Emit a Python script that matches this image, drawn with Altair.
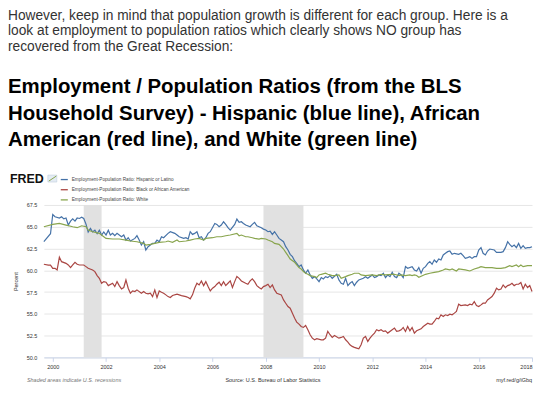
import altair as alt
import pandas as pd

# ---------------- text ----------------
PARAGRAPH = [
    "However, keep in mind that population growth is different for each group. Here is a",
    "look at employment to population ratios which clearly shows NO group has",
    "recovered from the Great Recession:",
]
HEADLINE = [
    "Employment / Population Ratios (from the BLS",
    "Household Survey) - Hispanic (blue line), African",
    "American (red line), and White (green line)",
]
SERIES_NAMES = [
    "Employment-Population Ratio: Hispanic or Latino",
    "Employment-Population Ratio: Black or African American",
    "Employment-Population Ratio: White",
]
SERIES_COLORS = ["#4572a7", "#aa4643", "#89a54e"]
Y_TICKS = [50.0, 52.5, 55.0, 57.5, 60.0, 62.5, 65.0, 67.5]
X_TICK_YEARS = [2000, 2002, 2004, 2006, 2008, 2010, 2012, 2014, 2016, 2018]

# recessions (start, end)
RECESSION_START = ["2001-03-01", "2007-12-01"]
RECESSION_END = ["2001-11-01", "2009-06-01"]

# ---------------- series (month, percent) ----------------
HISPANIC = [
    ("1999-09", 63.3), ("1999-12", 64.2), ("2000-01", 66.4), ("2000-02", 66.15), ("2000-04", 66.0),
    ("2000-05", 66.15), ("2000-06", 65.9), ("2000-07", 66.0), ("2000-08", 65.2), ("2000-09", 65.65),
    ("2000-10", 65.9), ("2000-11", 65.65), ("2000-12", 66.0), ("2001-01", 65.95), ("2001-02", 66.1),
    ("2001-03", 65.95), ("2001-04", 65.3), ("2001-05", 64.4), ("2001-06", 64.8), ("2001-07", 64.4),
    ("2001-08", 64.6), ("2001-09", 64.2), ("2001-10", 64.6), ("2001-11", 64.05), ("2001-12", 64.4),
    ("2002-01", 64.05), ("2002-02", 64.6), ("2002-03", 64.05), ("2002-04", 64.25), ("2002-05", 63.97),
    ("2002-06", 64.25), ("2002-08", 63.85), ("2002-09", 64.05), ("2002-10", 63.47), ("2002-11", 63.74),
    ("2002-12", 63.36), ("2003-02", 63.66), ("2003-03", 63.97), ("2003-04", 63.47), ("2003-05", 62.9),
    ("2003-06", 63.28), ("2003-07", 62.33), ("2003-08", 62.71), ("2003-09", 62.9), ("2003-10", 63.09),
    ("2003-11", 63.09), ("2003-12", 63.47), ("2004-01", 63.28), ("2004-02", 63.85), ("2004-03", 63.74),
    ("2004-05", 64.24), ("2004-06", 64.43), ("2004-08", 64.24), ("2004-09", 64.05), ("2004-10", 63.85),
    ("2004-12", 63.66), ("2005-01", 63.74), ("2005-02", 63.59), ("2005-03", 64.43), ("2005-04", 64.12),
    ("2005-05", 64.24), ("2005-06", 64.43), ("2005-07", 63.74), ("2005-08", 63.85), ("2005-09", 63.47),
    ("2005-10", 63.74), ("2005-11", 64.24), ("2005-12", 64.43), ("2006-02", 65.38), ("2006-03", 65.27),
    ("2006-04", 65.0), ("2006-05", 65.19), ("2006-06", 65.57), ("2006-07", 65.27), ("2006-08", 64.89),
    ("2006-09", 64.62), ("2006-11", 65.27), ("2006-12", 65.88), ("2007-01", 65.5), ("2007-02", 65.57),
    ("2007-03", 65.38), ("2007-04", 65.19), ("2007-06", 65.0), ("2007-07", 65.27), ("2007-08", 65.5),
    ("2007-09", 65.11), ("2007-11", 64.89), ("2007-12", 64.73), ("2008-01", 64.62), ("2008-02", 64.43),
    ("2008-03", 64.5), ("2008-04", 64.12), ("2008-05", 64.43), ("2008-06", 64.05), ("2008-07", 63.66),
    ("2008-08", 63.47), ("2008-09", 63.28), ("2008-10", 62.71), ("2008-11", 62.33), ("2008-12", 61.83),
    ("2009-01", 61.56), ("2009-02", 61.07), ("2009-03", 60.8), ("2009-04", 60.42), ("2009-05", 60.61),
    ("2009-06", 60.04), ("2009-07", 59.66), ("2009-08", 60.04), ("2009-09", 59.47), ("2009-10", 59.08),
    ("2009-11", 59.27), ("2009-12", 59.01), ("2010-01", 58.7), ("2010-02", 59.16), ("2010-03", 59.01),
    ("2010-04", 59.27), ("2010-05", 59.16), ("2010-06", 59.39), ("2010-07", 59.08), ("2010-09", 59.54),
    ("2010-10", 58.89), ("2010-11", 58.51), ("2010-12", 58.4), ("2011-01", 59.08), ("2011-02", 58.24),
    ("2011-03", 58.51), ("2011-04", 58.7), ("2011-05", 58.24), ("2011-06", 58.63), ("2011-07", 58.89),
    ("2011-09", 59.08), ("2011-10", 59.27), ("2011-11", 59.08), ("2012-01", 59.47), ("2012-02", 59.16),
    ("2012-03", 59.27), ("2012-04", 59.47), ("2012-05", 59.39), ("2012-06", 59.66), ("2012-07", 59.16),
    ("2012-08", 59.47), ("2012-09", 59.27), ("2012-10", 59.77), ("2012-11", 59.27), ("2012-12", 59.16),
    ("2013-01", 59.66), ("2013-02", 59.47), ("2013-03", 59.16), ("2013-04", 60.42), ("2013-05", 60.23),
    ("2013-07", 60.42), ("2013-08", 60.04), ("2013-09", 59.92), ("2013-10", 60.31), ("2013-11", 59.66),
    ("2013-12", 60.23), ("2014-01", 60.42), ("2014-02", 60.8), ("2014-03", 60.99), ("2014-04", 60.69),
    ("2014-05", 61.18), ("2014-06", 60.92), ("2014-07", 61.3), ("2014-08", 61.18), ("2014-09", 61.76),
    ("2014-10", 61.95), ("2014-11", 62.14), ("2014-12", 62.21), ("2015-01", 61.83), ("2015-02", 61.95),
    ("2015-04", 61.83), ("2015-05", 61.95), ("2015-06", 61.68), ("2015-07", 61.37), ("2015-08", 61.45),
    ("2015-09", 61.56), ("2015-10", 61.37), ("2015-11", 61.56), ("2015-12", 61.56), ("2016-01", 62.33),
    ("2016-02", 62.6), ("2016-03", 61.95), ("2016-04", 61.76), ("2016-05", 62.21), ("2016-06", 62.44),
    ("2016-08", 62.33), ("2016-09", 62.06), ("2016-10", 62.06), ("2016-11", 62.06), ("2016-12", 62.14),
    ("2017-01", 62.6), ("2017-02", 63.28), ("2017-03", 62.98), ("2017-04", 62.71), ("2017-05", 62.9),
    ("2017-06", 62.6), ("2017-07", 63.09), ("2017-08", 62.52), ("2017-09", 62.83), ("2017-10", 62.52),
    ("2017-11", 62.6), ("2017-12", 62.6), ("2018-01", 62.71),
]

BLACK = [
    ("1999-09", 60.69), ("1999-11", 60.6), ("1999-12", 60.6), ("2000-01", 60.23), ("2000-02", 60.23),
    ("2000-03", 60.04), ("2000-04", 61.5), ("2000-05", 60.99), ("2000-07", 60.8), ("2000-08", 60.61),
    ("2000-09", 60.31), ("2000-10", 60.61), ("2000-11", 60.92), ("2000-12", 60.69), ("2001-01", 60.61),
    ("2001-03", 60.61), ("2001-04", 60.42), ("2001-05", 60.23), ("2001-07", 60.04), ("2001-08", 59.85),
    ("2001-09", 59.39), ("2001-10", 59.08), ("2001-11", 58.51), ("2001-12", 58.7), ("2002-01", 58.63),
    ("2002-02", 58.24), ("2002-04", 58.51), ("2002-05", 58.13), ("2002-06", 58.7), ("2002-07", 58.24),
    ("2002-08", 57.86), ("2002-09", 58.02), ("2002-10", 58.89), ("2002-11", 57.94), ("2002-12", 57.37),
    ("2003-01", 57.63), ("2003-02", 57.56), ("2003-03", 57.75), ("2003-05", 57.37), ("2003-06", 57.56),
    ("2003-07", 57.37), ("2003-08", 57.29), ("2003-09", 57.37), ("2003-10", 56.98), ("2003-11", 57.75),
    ("2003-12", 56.87), ("2004-01", 57.63), ("2004-02", 57.48), ("2004-03", 57.37), ("2004-04", 57.18),
    ("2004-05", 56.98), ("2004-06", 56.87), ("2004-07", 57.1), ("2004-09", 57.25), ("2004-10", 57.18),
    ("2004-11", 57.1), ("2005-01", 56.98), ("2005-02", 56.87), ("2005-03", 56.72), ("2005-04", 57.18),
    ("2005-05", 57.94), ("2005-06", 58.51), ("2005-07", 58.32), ("2005-08", 58.78), ("2005-09", 58.24),
    ("2005-10", 58.7), ("2005-11", 58.13), ("2005-12", 57.63), ("2006-01", 57.94), ("2006-02", 58.13),
    ("2006-03", 58.4), ("2006-04", 58.63), ("2006-05", 58.24), ("2006-06", 58.7), ("2006-07", 58.24),
    ("2006-08", 58.51), ("2006-09", 58.78), ("2006-10", 58.02), ("2006-11", 58.7), ("2006-12", 59.3),
    ("2007-01", 59.08), ("2007-02", 58.78), ("2007-04", 58.51), ("2007-05", 58.4), ("2007-06", 58.78),
    ("2007-07", 59.01), ("2007-08", 58.7), ("2007-09", 58.24), ("2007-10", 58.02), ("2007-11", 57.86),
    ("2007-12", 58.13), ("2008-01", 58.24), ("2008-02", 58.4), ("2008-03", 58.02), ("2008-04", 58.32),
    ("2008-05", 57.75), ("2008-06", 57.37), ("2008-08", 57.18), ("2008-09", 56.6), ("2008-10", 56.22),
    ("2008-11", 55.84), ("2008-12", 55.65), ("2009-01", 55.08), ("2009-02", 54.5), ("2009-03", 54.05),
    ("2009-04", 53.82), ("2009-05", 53.55), ("2009-06", 53.44), ("2009-07", 53.66), ("2009-08", 53.17),
    ("2009-09", 52.6), ("2009-10", 52.21), ("2009-11", 52.02), ("2009-12", 52.14), ("2010-02", 52.02),
    ("2010-03", 52.02), ("2010-04", 52.21), ("2010-05", 52.98), ("2010-06", 52.6), ("2010-07", 52.29),
    ("2010-08", 52.52), ("2010-10", 52.21), ("2010-11", 52.29), ("2010-12", 52.4), ("2011-01", 52.02),
    ("2011-02", 51.76), ("2011-03", 51.45), ("2011-04", 51.26), ("2011-05", 51.15), ("2011-06", 51.07),
    ("2011-07", 50.99), ("2011-08", 51.45), ("2011-09", 52.21), ("2011-10", 52.4), ("2011-11", 51.83),
    ("2011-12", 52.21), ("2012-01", 52.52), ("2012-02", 52.79), ("2012-03", 53.17), ("2012-04", 53.05),
    ("2012-05", 53.17), ("2012-06", 52.98), ("2012-07", 53.05), ("2012-08", 52.79), ("2012-10", 53.17),
    ("2012-11", 53.36), ("2012-12", 52.98), ("2013-01", 53.05), ("2013-02", 53.17), ("2013-03", 53.44),
    ("2013-04", 52.98), ("2013-05", 53.55), ("2013-06", 53.05), ("2013-07", 53.44), ("2013-08", 52.79),
    ("2013-09", 53.05), ("2013-11", 53.28), ("2013-12", 53.55), ("2014-02", 53.93), ("2014-03", 53.82),
    ("2014-04", 53.82), ("2014-05", 54.12), ("2014-06", 54.5), ("2014-07", 54.43), ("2014-08", 54.89),
    ("2014-09", 54.69), ("2014-10", 54.89), ("2014-11", 54.81), ("2014-12", 54.96), ("2015-01", 54.89),
    ("2015-02", 55.08), ("2015-03", 55.27), ("2015-04", 56.11), ("2015-05", 55.95), ("2015-07", 56.03),
    ("2015-08", 55.95), ("2015-09", 56.11), ("2015-10", 56.03), ("2015-11", 56.41), ("2015-12", 55.95),
    ("2016-01", 55.84), ("2016-02", 56.03), ("2016-03", 56.22), ("2016-04", 56.22), ("2016-05", 56.6),
    ("2016-06", 56.79), ("2016-07", 56.98), ("2016-08", 57.37), ("2016-09", 57.94), ("2016-10", 57.75),
    ("2016-11", 57.86), ("2016-12", 58.32), ("2017-01", 58.02), ("2017-02", 58.24), ("2017-03", 58.32),
    ("2017-04", 58.51), ("2017-05", 58.24), ("2017-06", 58.4), ("2017-07", 58.4), ("2017-08", 58.6),
    ("2017-09", 57.86), ("2017-10", 58.4), ("2017-11", 58.02), ("2017-12", 58.24), ("2018-01", 57.56),
]

WHITE = [
    ("1999-09", 65.0), ("2000-01", 65.27), ("2000-04", 65.38), ("2000-07", 65.19), ("2000-10", 65.0),
    ("2000-12", 64.89), ("2001-02", 65.11), ("2001-04", 65.0), ("2001-05", 64.62), ("2001-07", 64.43),
    ("2001-10", 64.24), ("2001-12", 63.85), ("2002-01", 63.66), ("2002-04", 63.59), ("2002-07", 63.59),
    ("2002-10", 63.47), ("2002-12", 63.36), ("2003-03", 63.28), ("2003-06", 63.09), ("2003-07", 62.9),
    ("2003-09", 62.98), ("2003-11", 63.09), ("2004-01", 63.21), ("2004-04", 63.28), ("2004-05", 63.36),
    ("2004-07", 63.21), ("2004-09", 63.47), ("2004-10", 63.28), ("2005-01", 63.36), ("2005-03", 63.47),
    ("2005-05", 63.59), ("2005-07", 63.66), ("2005-09", 63.47), ("2005-10", 63.66), ("2006-01", 63.74),
    ("2006-03", 63.85), ("2006-05", 63.85), ("2006-07", 63.97), ("2006-09", 64.05), ("2006-12", 64.24),
    ("2007-01", 63.97), ("2007-02", 64.05), ("2007-04", 63.85), ("2007-05", 63.85), ("2007-07", 63.74),
    ("2007-08", 63.66), ("2007-10", 63.59), ("2007-11", 63.66), ("2008-01", 63.59), ("2008-02", 63.47),
    ("2008-04", 63.28), ("2008-05", 63.09), ("2008-07", 62.98), ("2008-08", 62.71), ("2008-09", 62.44),
    ("2008-10", 62.06), ("2008-11", 61.68), ("2008-12", 61.3), ("2009-02", 60.92), ("2009-03", 60.61),
    ("2009-04", 60.31), ("2009-05", 60.15), ("2009-06", 59.85), ("2009-07", 59.66), ("2009-08", 59.54),
    ("2009-09", 59.39), ("2009-11", 59.27), ("2009-12", 59.16), ("2010-01", 59.47), ("2010-02", 59.54),
    ("2010-04", 59.66), ("2010-05", 59.54), ("2010-06", 59.47), ("2010-07", 59.39), ("2010-08", 59.39),
    ("2010-10", 59.47), ("2010-11", 59.08), ("2011-01", 59.27), ("2011-02", 59.39), ("2011-04", 59.54),
    ("2011-05", 59.66), ("2011-07", 59.66), ("2011-08", 59.47), ("2011-10", 59.39), ("2012-01", 59.47),
    ("2012-03", 59.39), ("2012-05", 59.54), ("2012-07", 59.47), ("2012-10", 59.54), ("2012-11", 59.54),
    ("2013-01", 59.39), ("2013-02", 59.47), ("2013-04", 59.39), ("2013-06", 59.47), ("2013-07", 59.4),
    ("2013-08", 59.47), ("2013-09", 59.4), ("2013-10", 59.2), ("2014-01", 59.54), ("2014-03", 59.66),
    ("2014-05", 59.77), ("2014-07", 59.85), ("2014-09", 60.04), ("2014-10", 60.15), ("2014-12", 60.04),
    ("2015-01", 60.15), ("2015-03", 59.92), ("2015-04", 60.15), ("2015-07", 60.04), ("2015-09", 59.92),
    ("2015-11", 60.15), ("2016-01", 60.31), ("2016-02", 60.42), ("2016-04", 60.31), ("2016-07", 60.31),
    ("2016-09", 60.23), ("2016-11", 60.23), ("2017-01", 60.31), ("2017-03", 60.53), ("2017-04", 60.42),
    ("2017-06", 60.61), ("2017-07", 60.42), ("2017-08", 60.61), ("2017-09", 60.42), ("2017-11", 60.53),
    ("2017-12", 60.53), ("2018-01", 60.53),
]

# ---------------- tables ----------------
rows = []
for name, series in zip(SERIES_NAMES, [HISPANIC, BLACK, WHITE]):
    for month, value in series:
        rows.append({"date": month + "-01", "value": value, "series": name})
lines_df = pd.DataFrame(rows)
rec_df = pd.DataFrame({"start": RECESSION_START, "end": RECESSION_END})

FONT = "Liberation Sans"
W, H = 490, 153

x_scale = alt.Scale(domain=[alt.DateTime(year=1999, month=9, date=1),
                            alt.DateTime(year=2018, month=1, date=1)])
y_scale = alt.Scale(domain=[50, 67.5], nice=False, zero=False)

recessions = alt.Chart(rec_df).mark_rect(color="#e1e1e1").encode(
    x=alt.X("start:T", scale=x_scale),
    x2="end:T",
    y=alt.value(0),
    y2=alt.value(H),
)

lines = alt.Chart(lines_df).mark_line(strokeWidth=1.2).encode(
    x=alt.X("date:T", scale=x_scale, title=None,
            axis=alt.Axis(values=[alt.DateTime(year=y, month=1, date=1) for y in X_TICK_YEARS],
                          format="%Y", labelFontSize=5.5, labelColor="#333", labelFont=FONT,
                          domainColor="#ccd6eb", tickColor="#ccd6eb", tickSize=4,
                          labelPadding=3, grid=False, labelFlush=True)),
    y=alt.Y("value:Q", scale=y_scale, title="Percent",
            axis=alt.Axis(values=Y_TICKS, format=".1f", labelFontSize=5.5, labelColor="#333",
                          labelFont=FONT, domain=False, ticks=False, gridColor="#e6e6e6",
                          labelPadding=7, titleFontSize=5.5, titleFontWeight="normal",
                          titleColor="#333", titleFont=FONT, titlePadding=8)),
    color=alt.Color("series:N",
                    scale=alt.Scale(domain=SERIES_NAMES, range=SERIES_COLORS),
                    sort=SERIES_NAMES,
                    legend=alt.Legend(orient="none", legendX=16, legendY=-30, title=None,
                                      symbolType="stroke", symbolSize=50, symbolStrokeWidth=1.3,
                                      labelFontSize=4.7, labelColor="#444", labelFont=FONT,
                                      rowPadding=2.2, labelOffset=3, padding=0)),
)


def note(text, x, y, align="left", **kw):
    return alt.Chart(alt.Data(values=[{}])).mark_text(
        text=text, align=align, baseline="alphabetic", font=FONT, **kw
    ).encode(x=alt.value(x), y=alt.value(y))


fred = note("FRED", -34, -22.5, fontSize=12.5, fontWeight="bold", color="#111")
# small FRED chart icon next to the logo
icon_box = alt.Chart(alt.Data(values=[{}])).mark_rect(
    fill="#e4ecf4", stroke="#b8c8d8", strokeWidth=0.5
).encode(x=alt.value(4), x2=alt.value(13), y=alt.value(-30), y2=alt.value(-23))
icon_line = alt.Chart(alt.Data(values=[{}])).mark_rule(
    color="#89a54e", strokeWidth=1
).encode(x=alt.value(5), x2=alt.value(12.5), y=alt.value(-24), y2=alt.value(-29))
shaded = note("Shaded areas indicate U.S. recessions", -17, 178, fontSize=5.5,
              fontStyle="italic", color="#777")
source = note("Source: U.S. Bureau of Labor Statistics", 230, 178, align="center",
              fontSize=5.5, color="#333")
link = note("myf.red/g/iGbq", 490, 178, align="right", fontSize=5.5, color="#333")

chart = alt.layer(recessions, lines, fred, icon_box, icon_line, shaded, source, link).properties(
    width=W,
    height=H,
    padding=0,
    title=alt.Title(
        text=PARAGRAPH, subtitle=HEADLINE, anchor="start", frame="group", dx=-36,
        font=FONT, fontSize=13.8, fontWeight="normal", color="#333", lineHeight=15.5,
        subtitleFont=FONT, subtitleFontSize=20.5, subtitleFontWeight="bold",
        subtitleColor="#000", subtitleLineHeight=26.5, subtitlePadding=24, offset=22,
    ),
).configure_view(stroke=None)

chart.save("out.html", embed_options={"renderer": "svg", "actions": False})
